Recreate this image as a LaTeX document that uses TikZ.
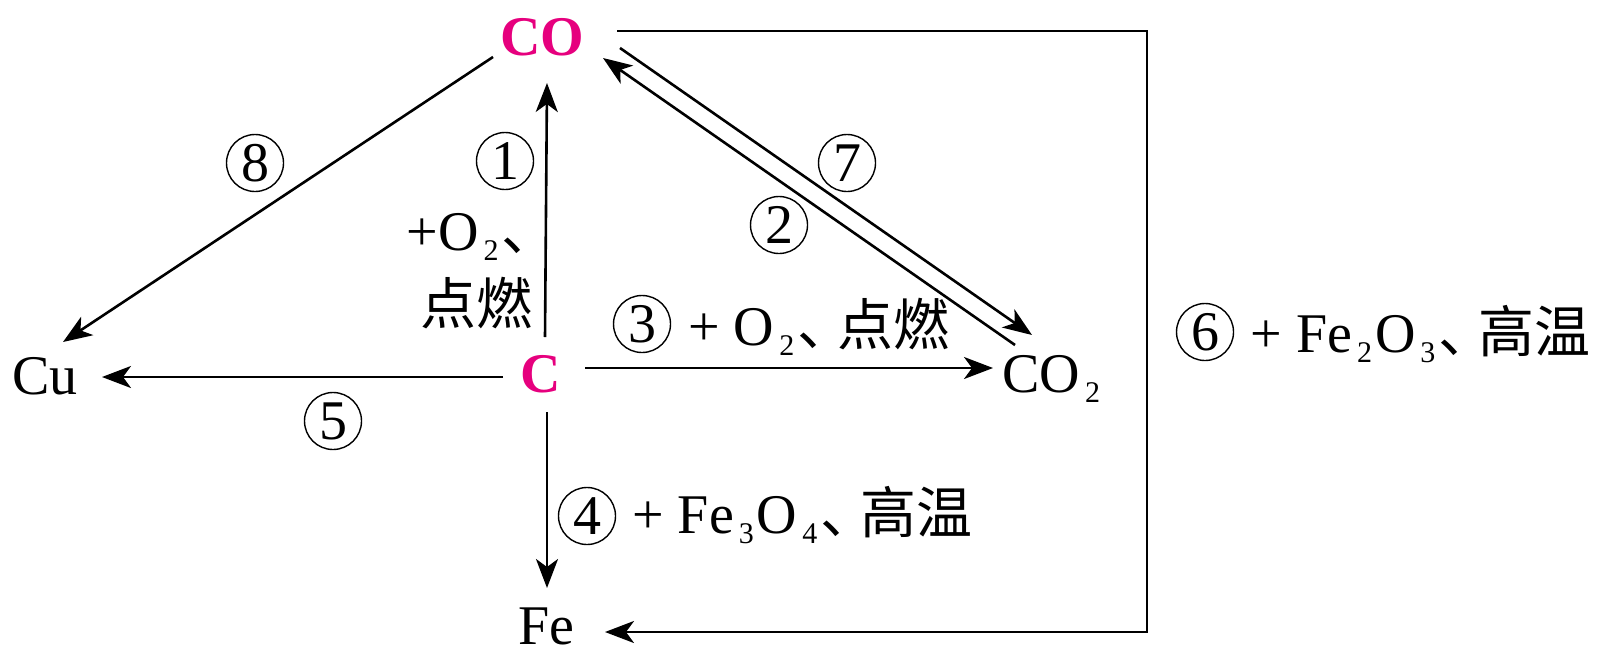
\documentclass[tikz,border=0pt]{standalone}
\usepackage{fontspec}
\setmainfont{Liberation Serif}
\newfontfamily\cjk{Noto Sans CJK SC}
\usetikzlibrary{arrows.meta}
\definecolor{chemmag}{RGB}{230,0,126}
\newcommand{\chemsub}[1]{\kern2.5pt\raisebox{-5pt}{\fontsize{15}{15}\selectfont #1}\kern1.5pt}
\newcommand{\dun}{{\cjk 、}\kern-8pt}
\begin{document}
\begin{tikzpicture}[x=0.5pt,y=-0.5pt,
  every node/.style={inner sep=0pt,font=\fontsize{28}{30}\selectfont},
  chem/.style={anchor=base west},
  key/.style={font=\fontsize{28}{30}\selectfont\bfseries,text=chemmag},
  num/.style={circle,draw,line width=0.7pt,minimum size=28.5pt},
  arr/.style={line width=1.3pt,-{Stealth[length=14.5pt,width=11pt,inset=4pt]}}
]
\useasboundingbox (0,0) rectangle (1598,648);
% species
\node[key,chem] (CO) at (500,55) {CO};
\node[key,chem] (C) at (520,392) {C};
\node[chem] (Cu) at (12,394) {Cu};
\node[chem] (CO2) at (1002,392) {CO\chemsub{2}};
\node[chem] (Fe) at (518,644) {Fe};
% connectors
\draw[arr] ([shift={(25,-55)}]C.base west) -- ([shift={(47,28)}]CO.base west);
\draw[arr] ([shift={(-7,2)}]CO.base west) -- ([shift={(51,-52)}]Cu.base west);
\draw[arr] ([shift={(120,-7)}]CO.base west) -- ([shift={(30,-57)}]CO2.base west);
\draw[arr] ([shift={(13,-47)}]CO2.base west) -- ([shift={(103,3)}]CO.base west);
\draw[arr] ([shift={(65,-24)}]C.base west) -- ([shift={(-9,-24)}]CO2.base west);
\draw[arr] ([shift={(-17,-15)}]C.base west) -- ([shift={(90,-17)}]Cu.base west);
\draw[arr] ([shift={(27,20)}]C.base west) -- ([shift={(29,-56)}]Fe.base west);
\coordinate (turn) at (1147,330);
\draw[arr] ([shift={(117,-24)}]CO.base west) -| (turn) |- ([shift={(87,-12)}]Fe.base west);
% labels
\node[num] (n1) at (505,161) {1};
\node[anchor=base east] (t1) at (558,250) {+O\chemsub{2}{\cjk 、}};
\node[anchor=east] (t1b) at (533,303) {\cjk 点燃};
\node[num] (n8) at (255,163) {8};
\node[num] (n7) at (847,163) {7};
\node[num] (n2) at (779,225) {2};
\node[num] (n3) at (642,324) {3};
\node[anchor=base west] (t3) at (688,345) {+ O\chemsub{2}\dun{\cjk 点燃}};
\node[num] (n5) at (333,421) {5};
\node[num] (n4) at (587,516) {4};
\node[anchor=base west] (t4) at (632,533) {+ Fe\chemsub{3}O\chemsub{4}\dun{\cjk 高温}};
\node[num] (n6) at (1205,332) {6};
\node[anchor=base west] (t6) at (1250,352) {+ Fe\chemsub{2}O\chemsub{3}\dun{\cjk 高温}};
\end{tikzpicture}
\end{document}
